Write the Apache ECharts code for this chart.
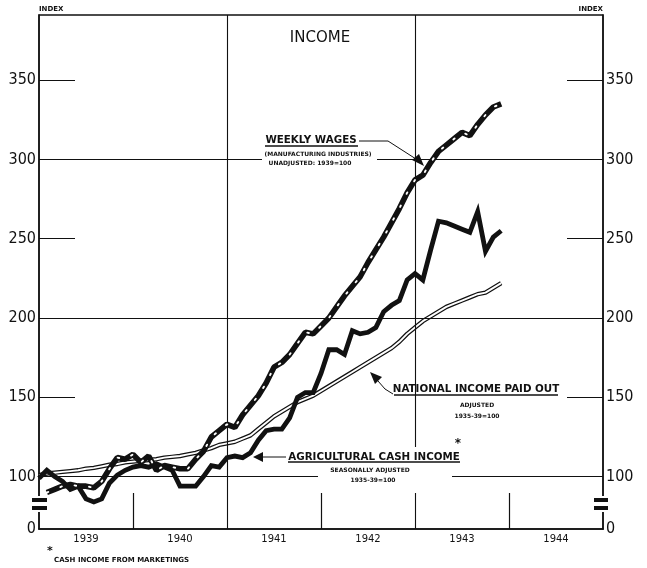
<!DOCTYPE html>
<html><head><meta charset="utf-8">
<script src="https://cdn.jsdelivr.net/npm/echarts@6/dist/echarts.min.js"></script>
<style>html,body{margin:0;padding:0;background:#fff}#c{width:647px;height:568px}</style>
</head><body><div id="c"></div>
<script>
// ---- data (monthly, Jan 1939 .. Dec 1943) ----
const startYear = 1939;
const yearLabels = ['1939', '1940', '1941', '1942', '1943', '1944'];
const yTickValues = [100, 150, 200, 250, 300, 350];
const weeklyWages = [
  null, 90, 92, 94, 95, 94, 94, 93, 97, 105, 112, 111,
  114, 109, 113, 104, 107, 106, 105, 105, 111, 116, 125, 129,
  133, 131, 139, 145, 151, 159, 169, 172, 177, 184, 191, 190,
  195, 200, 207, 214, 220, 226, 235, 243, 251, 260, 269, 279,
  287, 290, 298, 305, 309, 313, 317, 315, 322, 328, 333, 335
];
const nationalIncome = [
  101, 102, 102.5, 103, 103.5, 104, 105, 105.5, 106.5, 107.5, 108, 109,
  109.5, 110, 110.5, 111, 112, 112.5, 113, 114, 115, 116.5, 118, 120,
  121, 122, 124, 126, 130, 134, 138, 141, 144, 147, 149, 151,
  154, 157, 160, 163, 166, 169, 172, 175, 178, 181, 185, 190,
  194, 198, 201, 204, 207, 209, 211, 213, 215, 216, 219, 222
];
const agriculturalIncome = [
  99, 104, 100, 97, 92, 94, 86, 84, 86, 96, 101, 104,
  106, 107, 106, 108, 106, 104, 94, 94, 94, 100, 107, 106,
  112, 113, 112, 115, 123, 129, 130, 130, 137, 150, 153, 153,
  165, 180, 180, 177, 192, 190, 191, 194, 204, 208, 211, 224,
  228, 224, 243, 261, 260, 258, 256, 254, 267, 242, 251, 255
];

function toPairs(arr) {
  return arr.map((v, i) => [startYear + i / 12, v]).filter(p => p[1] != null);
}

const yMin = 67, yMax = 391;
const numFont = '"Liberation Sans Narrow", "DejaVu Sans Condensed", sans-serif';
const letterFont = '"DejaVu Sans", sans-serif';

const yAxisBase = (pos) => ({
  type: 'value', position: pos, min: yMin, max: yMax,
  axisLine: { show: true, lineStyle: { color: '#111', width: 1.6 } },
  splitLine: { show: false },
  axisTick: { show: true, inside: true, length: 36, customValues: [150, 250, 350],
              lineStyle: { color: '#111', width: 1.2 } },
  axisLabel: { customValues: [yMin].concat(yTickValues), margin: 3,
               formatter: v => (v < 90 ? '0' : String(v)),
               color: '#111', fontSize: 16, fontFamily: numFont },
  name: 'INDEX', nameLocation: 'end', nameGap: 2,
  nameTextStyle: { fontSize: 7, fontWeight: 'bold', color: '#111', fontFamily: letterFont,
                   align: pos === 'left' ? 'left' : 'right', padding: [0, 0, 0, 0] }
});

const chart = echarts.init(document.getElementById('c'));
const option = {
  animation: false,
  backgroundColor: '#fff',
  grid: { left: 39, right: 44, top: 15, bottom: 39, show: true, borderColor: '#111', borderWidth: 1.3 },
  xAxis: {
    type: 'value', min: startYear, max: startYear + 6,
    axisLine: { show: true, lineStyle: { color: '#111', width: 1.6 } },
    splitLine: { show: false },
    axisTick: { show: true, inside: true, length: 36, customValues: [1940, 1942, 1944],
                lineStyle: { color: '#111', width: 1.2 } },
    axisLabel: { customValues: yearLabels.map(y => +y + 0.5), formatter: v => String(Math.floor(v)),
                 margin: 5, color: '#111', fontSize: 10, fontFamily: letterFont }
  },
  yAxis: [yAxisBase('left'), yAxisBase('right')],
  series: [
    { type: 'line', data: [], silent: true, z: 1,
      markLine: { silent: true, symbol: 'none', label: { show: false },
                  lineStyle: { color: '#111', width: 1.1, type: 'solid' },
                  data: [{ yAxis: 100 }, { yAxis: 200 }, { yAxis: 300 }, { xAxis: 1941 }, { xAxis: 1943 }] } },
    { name: 'National income paid out', type: 'line', data: toPairs(nationalIncome), showSymbol: false,
      lineStyle: { color: '#111', width: 4.4 }, z: 3 },
    { name: 'National income inner', type: 'line', data: toPairs(nationalIncome), showSymbol: false,
      lineStyle: { color: '#fff', width: 1.9 }, z: 4 },
    { name: 'Agricultural cash income', type: 'line', data: toPairs(agriculturalIncome), showSymbol: false,
      lineStyle: { color: '#111', width: 4.8, join: 'miter' }, z: 5 },
    { name: 'Weekly wages', type: 'line', data: toPairs(weeklyWages), showSymbol: false,
      lineStyle: { color: '#111', width: 5.6 }, z: 6 },
    { name: 'Weekly wages beads', type: 'line', data: toPairs(weeklyWages), showSymbol: false,
      lineStyle: { color: '#fff', width: 1.9, type: [1.6, 13], cap: 'round' }, z: 7 }
  ]
};
chart.setOption(option);

const small = 'bold 6px ' + letterFont;
const lbl = 'bold 10.3px ' + letterFont;
function txt(t, x, y, font, align) {
  return { type: 'text', z: 60, style: { text: t, x: x, y: y, font: font, fill: '#111',
           textAlign: align || 'center', textVerticalAlign: 'middle' } };
}
function rect(x, y, w, h, fill) {
  return { type: 'rect', z: 55, shape: { x: x, y: y, width: w, height: h }, style: { fill: fill } };
}
function line(x1, y1, x2, y2, w) {
  return { type: 'line', z: 60, shape: { x1: x1, y1: y1, x2: x2, y2: y2 }, style: { stroke: '#111', lineWidth: w || 1 } };
}
function poly(points, w) {
  return { type: 'polyline', z: 60, shape: { points: points }, style: { stroke: '#111', lineWidth: w || 1, fill: null } };
}
function tri(points) {
  return { type: 'polygon', z: 60, shape: { points: points }, style: { fill: '#111' } };
}

chart.setOption({
  graphic: [
    // gaps in grid lines behind labels
    rect(262, 155, 115, 8, '#fff'),
    rect(318, 473, 134, 8, '#fff'),
    rect(411, 447, 8, 46, '#fff'),
    // title
    txt('INCOME', 320, 38, '15px ' + letterFont),
    // weekly wages label
    txt('WEEKLY WAGES', 311, 140, lbl),
    line(265, 146, 358, 146, 1.3),
    poly([[359, 141], [388, 141], [416, 159]], 1),
    tri([[424, 166], [412, 160], [419, 154]]),
    txt('(MANUFACTURING INDUSTRIES)', 318, 154, small),
    txt('UNADJUSTED: 1939=100', 310, 163, small),
    // national income label
    txt('NATIONAL INCOME PAID OUT', 476, 389, lbl),
    line(394, 395, 558, 395, 1.3),
    poly([[393, 394], [385, 389], [378, 381]], 1),
    tri([[370, 372], [382, 377], [375, 384]]),
    txt('ADJUSTED', 477, 405, small),
    txt('1935-39=100', 477, 416, small),
    // agricultural label
    txt('AGRICULTURAL CASH INCOME', 374, 457, lbl),
    line(288, 462, 460, 462, 1.3),
    line(262, 457, 286, 457, 1),
    tri([[253, 457], [263, 452], [263, 462]]),
    txt('SEASONALLY ADJUSTED', 370, 470, small),
    txt('1935-39=100', 373, 480, small),
    txt('*', 458, 444, 'bold 12px ' + letterFont),
    // axis breaks
    rect(31, 496, 17, 16, '#fff'),
    rect(32, 498, 15, 4, '#111'),
    rect(32, 506, 15, 4, '#111'),
    rect(593, 496, 17, 16, '#fff'),
    rect(594, 498, 14, 4, '#111'),
    rect(594, 506, 14, 4, '#111'),
    // footnote
    txt('*', 50, 551, 'bold 11px ' + letterFont),
    txt('CASH INCOME FROM MARKETINGS', 54, 560, 'bold 7px ' + letterFont, 'left')
  ]
});
</script>
</body></html>
